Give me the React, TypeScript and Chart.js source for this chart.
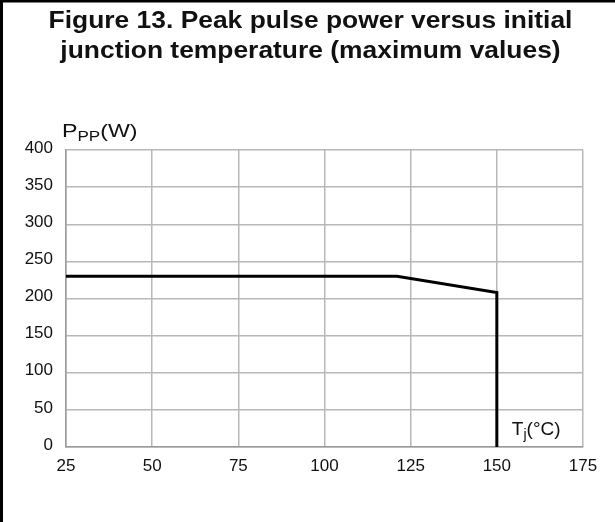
import React, { useEffect, useRef } from "react";
import { Chart, registerables } from "chart.js";

Chart.register(...registerables);

const titleLines = [
  "Figure 13. Peak pulse power versus initial",
  "junction temperature (maximum values)",
];
const junctionTemp = [25, 121, 150, 150];
const peakPulsePower = [230, 230, 208, 0];
const xTickValues = [25, 50, 75, 100, 125, 150, 175];
const yTickValues = [0, 50, 100, 150, 200, 250, 300, 350, 400];

const FONT = "'Liberation Sans', Arial, Helvetica, sans-serif";

function drawParts(ctx: any, parts: { t: string; size: number; dy: number }[], x: number, y: number, sx: number) {
  ctx.save();
  ctx.translate(x, y);
  ctx.scale(sx, 1);
  let cx = 0;
  for (const p of parts) {
    ctx.font = `${p.size}px ${FONT}`;
    ctx.fillText(p.t, cx, p.dy);
    cx += ctx.measureText(p.t).width;
  }
  ctx.restore();
}

const annotations = {
  id: "annotations",
  afterDraw(chart: any) {
    const ctx = chart.ctx;
    const area = chart.chartArea;
    const xs = chart.scales.x;
    ctx.save();
    // frame
    ctx.fillStyle = "#000";
    ctx.fillRect(0, 0, chart.width, 2.5);
    ctx.fillRect(0, 0, 3, chart.height);
    // title
    ctx.fillStyle = "#111";
    ctx.textAlign = "center";
    ctx.textBaseline = "alphabetic";
    ctx.font = `bold 24px ${FONT}`;
    const tcx = 310.5;
    [28, 58].forEach((by, i) => {
      ctx.save();
      ctx.translate(tcx, by);
      ctx.scale(1.1, 1);
      ctx.fillText(titleLines[i], 0, 0);
      ctx.restore();
    });
    // y axis label P_PP(W)
    ctx.textAlign = "left";
    drawParts(
      ctx,
      [
        { t: "P", size: 19, dy: 0 },
        { t: "PP", size: 14, dy: 3.5 },
        { t: "(W)", size: 19, dy: 0 },
      ],
      area.left - 4,
      area.top - 13,
      1.22
    );
    // x axis label Tj(°C)
    drawParts(
      ctx,
      [
        { t: "T", size: 19, dy: 0 },
        { t: "j", size: 14, dy: 4 },
        { t: "(°C)", size: 19, dy: 0 },
      ],
      xs.getPixelForValue(150) + 15,
      area.bottom - 12.5,
      1
    );
    ctx.restore();
  },
};

export default function App() {
  const canvasRef = useRef<HTMLCanvasElement | null>(null);

  useEffect(() => {
    if (!canvasRef.current) return;
    const chart = new Chart(canvasRef.current, {
      type: "line",
      data: {
        datasets: [
          {
            data: junctionTemp.map((t, i) => ({ x: t, y: peakPulsePower[i] })),
            borderColor: "#000",
            borderWidth: 3,
            pointRadius: 0,
            tension: 0,
            fill: false,
          },
        ],
      },
      options: {
        responsive: false,
        animation: false,
        layout: { padding: { top: 150, right: 32, bottom: 35, left: 0 } },
        plugins: {
          legend: { display: false },
          title: { display: false },
          tooltip: { enabled: false },
        },
        scales: {
          x: {
            type: "linear",
            min: 25,
            max: 175,
            afterBuildTicks: (scale: any) => {
              scale.ticks = xTickValues.map((v) => ({ value: v }));
            },
            afterFit: (scale: any) => {
              scale.height = 40;
            },
            grid: { color: "#b8b8b8", lineWidth: 1.5, drawTicks: false },
            border: { display: true, color: "#9a9a9a", width: 1.5 },
            ticks: {
              padding: 9,
              color: "#111",
              font: { family: FONT, size: 17 },
              maxRotation: 0,
            },
          },
          y: {
            type: "linear",
            min: 0,
            max: 400,
            afterBuildTicks: (scale: any) => {
              scale.ticks = yTickValues.map((v) => ({ value: v }));
            },
            afterFit: (scale: any) => {
              scale.width = 66;
            },
            grid: { color: "#b8b8b8", lineWidth: 1.5, drawTicks: false },
            border: { display: true, color: "#9a9a9a", width: 1.5 },
            ticks: {
              padding: 13,
              labelOffset: -2,
              color: "#111",
              font: { family: FONT, size: 17 },
            },
          },
        },
      },
      plugins: [annotations],
    });
    return () => chart.destroy();
  }, []);

  return (
    <div style={{ position: "absolute", left: 0, top: 0, width: 615, height: 522, background: "#fff" }}>
      <canvas ref={canvasRef} width={615} height={522} />
    </div>
  );
}
